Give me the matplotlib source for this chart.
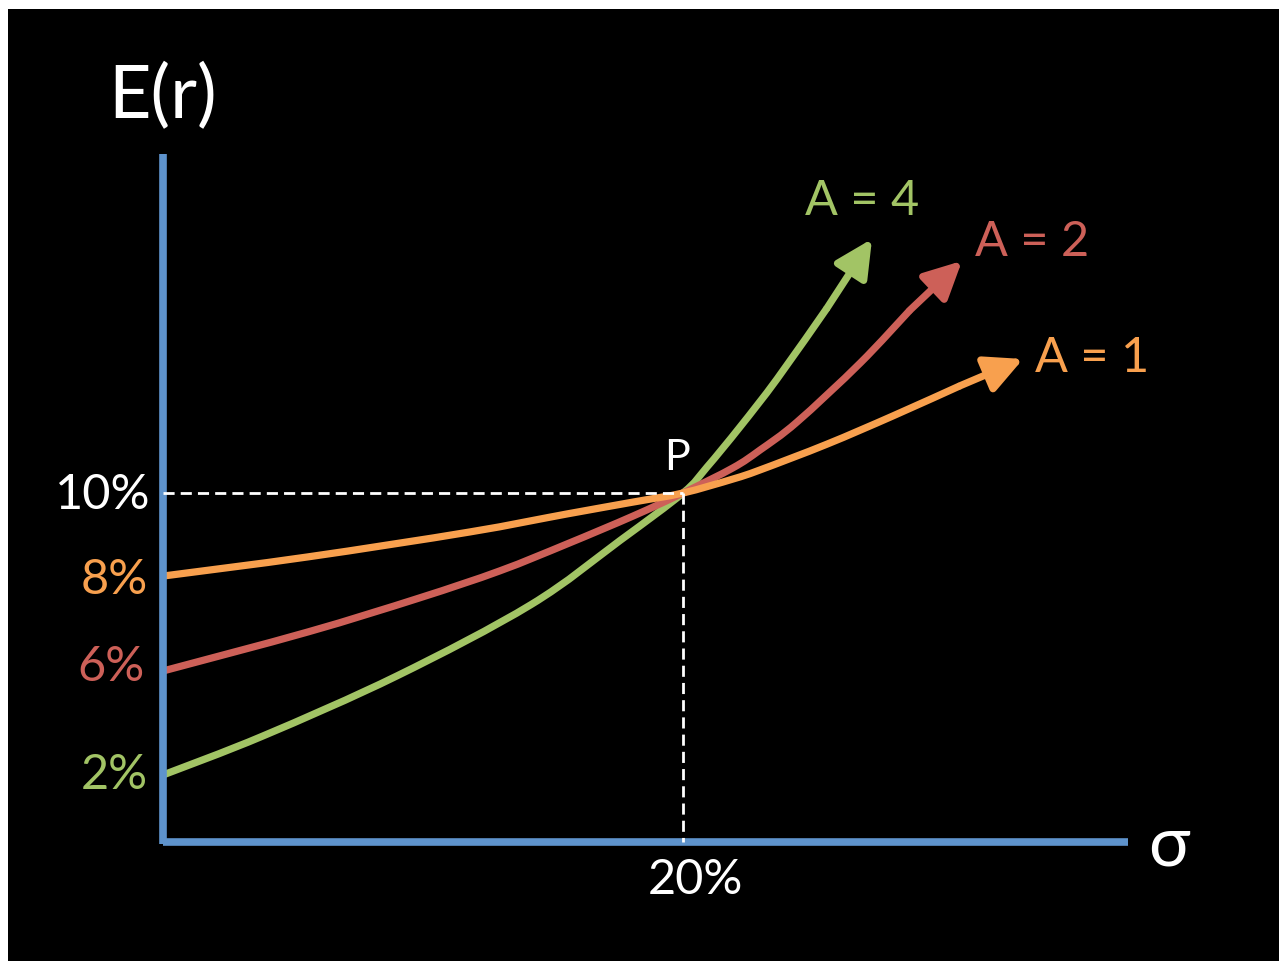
import numpy as np
import matplotlib
matplotlib.use("Agg")
import matplotlib.pyplot as plt
from matplotlib.path import Path
from matplotlib.patches import PathPatch

plt.rcParams['font.family'] = ['Lato', 'DejaVu Sans']

# indifference curves (sigma %, E(r) % as drawn)
sig_a1 = [0, 5.58, 11.77, 15.54, 18.08, 20.0, 21.92, 22.96, 25.54, 28.08, 30.65, 33.08]
er_a1 = [7.62, 8.17, 8.88, 9.40, 9.74, 10.0, 10.40, 10.66, 11.40, 12.21, 13.07, 13.84]

sig_a2 = [0, 5.58, 9.85, 12.96, 15.54, 18.08, 20.0, 21.92, 22.96, 24.38, 26.81, 28.73, 30.73]
er_a2 = [4.90, 6.02, 6.99, 7.77, 8.54, 9.34, 10.0, 10.72, 11.23, 12.03, 13.72, 15.24, 16.65]

sig_a4 = [0, 3.85, 9.0, 14.15, 17.58, 20.0, 20.92, 22.19, 23.62, 25.54, 27.27]
er_a4 = [1.92, 3.04, 4.76, 6.80, 8.64, 10.0, 10.74, 11.89, 13.27, 15.30, 17.28]

p_sigma, p_er = 20.0, 10.0
y_labels = ['10%', '8%', '6%', '2%']
curve_labels = ['A = 1', 'A = 2', 'A = 4']

orange = '#F8A04E'
red = '#CD6058'
green = '#A2C465'
blue = '#5E93CC'

W, H = 1279, 962
fig = plt.figure(figsize=(W / 100, H / 100), dpi=100, facecolor='white')
ax = fig.add_axes([8 / W, 0, 1 - 8 / W, 1 - 10 / H])
ax.set_facecolor('black')
ax.set_xlim((8 - 163) / 26, (W - 163) / 26)
ax.set_ylim((843 - H) / 34.9, (843 - 10) / 34.9)
ax.set_xticks([])
ax.set_yticks([])
for sp in ax.spines.values():
    sp.set_visible(False)


def px(x, y):
    # pixel position -> figure fraction
    return x / W, 1 - y / H


def smooth_path(xs, ys):
    # bezier path through the read points (catmull-rom tangents)
    pts = np.column_stack([xs, ys])
    verts = [pts[0]]
    codes = [Path.MOVETO]
    n = len(pts)
    for i in range(n - 1):
        p0 = pts[max(i - 1, 0)]
        p1 = pts[i]
        p2 = pts[i + 1]
        p3 = pts[min(i + 2, n - 1)]
        c1 = p1 + (p2 - p0) / 6
        c2 = p2 - (p3 - p1) / 6
        verts += [c1, c2, p2]
        codes += [Path.CURVE4] * 3
    return Path(verts, codes)


# axes
ax.plot([0, 0], [-0.06, 19.71], color=blue, lw=5.5, solid_capstyle='butt')
ax.plot([0, 37.12], [0, 0], color=blue, lw=5.5, solid_capstyle='butt')

# dashed guides to P
ax.plot([0, p_sigma], [p_er, p_er], color='white', lw=2, dashes=(4, 2.2))
ax.plot([p_sigma, p_sigma], [p_er, 0], color='white', lw=2, dashes=(4, 2.2))

# curves with arrow heads
for s, e, c in [(sig_a4, er_a4, green), (sig_a2, er_a2, red), (sig_a1, er_a1, orange)]:
    ax.add_patch(PathPatch(smooth_path(s[:-1], e[:-1]), fill=False, edgecolor=c,
                           lw=5.2, capstyle='butt', joinstyle='round'))
    ax.annotate('', xy=(s[-1], e[-1]), xytext=(s[-2], e[-2]),
                arrowprops=dict(arrowstyle='-|>,head_length=0.9,head_width=0.45',
                                mutation_scale=25, color=c, lw=5.2,
                                shrinkA=0, shrinkB=0))

# axis titles
fig.text(*px(163, 97), 'E(r)', color='white', fontsize=53, ha='center', va='center')
fig.text(*px(1169, 846), 'σ', color='white', fontsize=50, ha='center', va='center')

# tick-like labels
fig.text(*px(150, 495), y_labels[0], color='white', fontsize=35, ha='right', va='center')
fig.text(*px(148, 580), y_labels[1], color=orange, fontsize=35, ha='right', va='center')
fig.text(*px(145, 667), y_labels[2], color=red, fontsize=35, ha='right', va='center')
fig.text(*px(148, 775), y_labels[3], color=green, fontsize=35, ha='right', va='center')
fig.text(*px(695, 880), '20%', color='white', fontsize=35, ha='center', va='center')
fig.text(*px(677, 458), 'P', color='white', fontsize=31, ha='center', va='center')

# curve labels
fig.text(*px(1092, 358), curve_labels[0], color=orange, fontsize=35, ha='center', va='center')
fig.text(*px(1032, 242), curve_labels[1], color=red, fontsize=35, ha='center', va='center')
fig.text(*px(862, 201), curve_labels[2], color=green, fontsize=35, ha='center', va='center')

fig.savefig('out.png', dpi=100, facecolor=fig.get_facecolor())
